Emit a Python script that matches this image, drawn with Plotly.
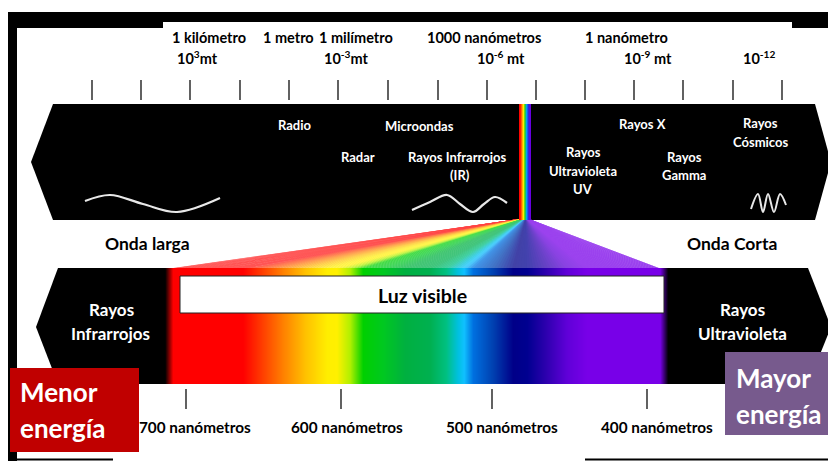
import numpy as np
import plotly.graph_objects as go

W, H = 836, 461
PAD = 8  # default page margin of the html body
FONT = "Lato"

# ---------------- content ----------------
top_labels = ["1 kilómetro", "1 metro", "1 milímetro", "1000 nanómetros", "1 nanómetro"]
top_label_x = [209, 288, 356, 484, 626]
exp_labels = ["10<sup>3</sup>mt", "10<sup>-3</sup>mt", "10<sup>-6</sup> mt", "10<sup>-9</sup> mt", "10<sup>-12</sup>"]
exp_label_x = [197, 346, 501, 648, 759]
top_tick_x = [92, 141, 190, 240, 289, 338, 388, 438, 487, 536, 585, 634, 683, 733, 782]

nm_labels = ["700 nanómetros", "600 nanómetros", "500 nanómetros", "400 nanómetros"]
nm_label_x = [195, 347, 502, 657]
nm_tick_x = [186, 341, 492, 647]

band_texts = ["Radio", "Microondas", "Radar", "Rayos Infrarrojos", "(IR)", "Rayos X",
              "Rayos", "Cósmicos", "Rayos", "Ultravioleta", "UV", "Rayos", "Gamma"]
band_text_x = [295, 419, 358, 457, 460, 642, 760, 760, 583, 583, 583, 684, 684]
band_text_y = [125, 126, 157, 157, 175, 124, 123, 142, 152, 171, 189, 157, 175]

# wave icons: extremes
long_wave_x = [85, 110, 143, 177, 220]
long_wave_y = [201, 195, 204, 212, 198]
ir_wave_x = [412, 430, 447, 460, 473, 484, 495, 507]
ir_wave_y = [210, 202, 195, 204, 212, 204, 197, 203]
cosmic_wave_x = [751, 758, 763, 768, 774, 780, 786]
cosmic_wave_y = [209, 194, 212, 194, 212, 194, 205]

# visible spectrum colour stops (position along the strip, colour)
spectrum_pos = [158, 165, 173, 243, 283, 305, 327, 337, 350, 363, 383, 405, 430, 446,
                458, 464, 473, 493, 513, 527, 547, 567, 587, 660, 668, 670]
spectrum_col = ["#000000", "#000000", "#FF0000", "#FF0000", "#FF8000", "#FFC000", "#FFEE00",
                "#FFF000", "#B0F000", "#00D000", "#00C820", "#00B040", "#00B050", "#00C080",
                "#00C0E0", "#10C0FF", "#0070E0", "#0040B0", "#000088", "#000090", "#3000B0",
                "#6000D8", "#7800E8", "#7800E8", "#000000", "#000000"]

rainbow_pos = [519, 520.5, 521.8, 523.2, 524.8, 526.4, 528, 529.5, 531]
rainbow_col = ["#FF0000", "#FF2000", "#FF9000", "#FFF000", "#20D020", "#00A0FF", "#2030E0",
               "#6000E0", "#7000E0"]

upper_band = [(53, 104), (815, 104), (831, 162), (815, 220), (53, 220), (31, 162)]
lower_band = [(58, 268), (808, 268), (831, 327), (808, 384), (58, 384), (36, 327)]


# ---------------- helpers ----------------
def h2r(h):
    h = h.lstrip("#")
    return np.array([int(h[i:i + 2], 16) for i in (0, 2, 4)], dtype=float)


def interp_color(pos, cols, x):
    x = min(max(x, pos[0]), pos[-1])
    for i in range(len(pos) - 1):
        if pos[i] <= x <= pos[i + 1]:
            t = 0 if pos[i + 1] == pos[i] else (x - pos[i]) / (pos[i + 1] - pos[i])
            return h2r(cols[i]) * (1 - t) + h2r(cols[i + 1]) * t
    return h2r(cols[-1])


def rgb(c):
    return "rgb(%d,%d,%d)" % tuple(int(round(v)) for v in c)


def strip_trace(pos, cols, y0, y1):
    x0, x1 = pos[0], pos[-1]
    edges = np.arange(x0, x1 + 0.001, 0.5)
    centers = (edges[:-1] + edges[1:]) / 2
    cs = [[(p - x0) / (x1 - x0), c] for p, c in zip(pos, cols)]
    return go.Heatmap(x=edges, y=[y0, y1], z=[centers], zmin=x0, zmax=x1,
                      colorscale=cs, showscale=False, hoverinfo="skip", zsmooth=False)


def poly_path(pts):
    return "M " + " L ".join("%g,%g" % p for p in pts) + " Z"


fig = go.Figure()
shapes = []

# frame
for (a, b, c, d) in [(6, 836, 12, 22), (6, 163, 12, 28), (792, 836, 12, 28), (6, 17, 12, 461),
                     (17, 113, 458.5, 460.5), (585, 836, 458.5, 460.5)]:
    shapes.append(dict(type="rect", xref="x", yref="y", x0=a, x1=b, y0=c, y1=d,
                       fillcolor="black", line_width=0, layer="below"))

# black bands
for band in (upper_band, lower_band):
    shapes.append(dict(type="path", xref="x", yref="y", path=poly_path(band),
                       fillcolor="black", line_width=0, layer="below"))

# prism fan (thin wedges, each slightly overlapping its neighbour)
base0, base1, step = 170, 660, 3
bxs = np.arange(base0, base1, step)
for bx in bxs:
    t0 = (bx - base0) / (base1 - base0)
    t1 = min((bx + step - base0) / (base1 - base0), 1)
    ax0 = 519 + 10 * t0 - 0.6
    ax1 = 519 + 10 * t1 + 0.6
    c = interp_color(spectrum_pos, spectrum_col, min(max(bx + step / 2, 178), 655))
    c = c * 0.74 + np.array([255, 255, 255]) * 0.26
    shapes.append(dict(type="path", xref="x", yref="y",
                       path=poly_path([(max(ax0, 519), 219), (min(ax1, 529), 219),
                                       (min(bx + step + 1.2, base1), 268.5), (bx, 268.5)]),
                       fillcolor=rgb(c), line_width=0, layer="below"))

# spectrum strips
fig.add_trace(strip_trace(spectrum_pos, spectrum_col, 268, 384))
fig.add_trace(strip_trace(rainbow_pos, rainbow_col, 104, 220))

# ticks
tx, ty = [], []
for x in top_tick_x:
    tx += [x, x, None]
    ty += [80, 100, None]
for x in nm_tick_x:
    tx += [x, x, None]
    ty += [389, 409, None]
fig.add_trace(go.Scatter(x=tx, y=ty, mode="lines", line=dict(color="#3a3a3a", width=1.6),
                         hoverinfo="skip", showlegend=False))

# waves
for wx, wy, wd in [(long_wave_x, long_wave_y, 2.2), (ir_wave_x, ir_wave_y, 2.2),
                   (cosmic_wave_x, cosmic_wave_y, 2.0)]:
    fig.add_trace(go.Scatter(x=wx, y=wy, mode="lines",
                             line=dict(color="#e8e8e8", width=wd, shape="spline", smoothing=1.0),
                             hoverinfo="skip", showlegend=False))

# white "Luz visible" box and energy boxes
shapes.append(dict(type="rect", xref="x", yref="y", x0=180, x1=664, y0=276, y1=313,
                   fillcolor="white", line=dict(color="#222", width=1), layer="above"))
shapes.append(dict(type="rect", xref="x", yref="y", x0=10, x1=139, y0=368, y1=452,
                   fillcolor="#C00000", line_width=0, layer="above"))
shapes.append(dict(type="rect", xref="x", yref="y", x0=725, x1=836, y0=352, y1=435,
                   fillcolor="#775A8D", line_width=0, layer="above"))

ann = []


def txt(s, x, y, size, color="black", xanchor="center"):
    ann.append(dict(text="<b>%s</b>" % s, x=x, y=y, xref="x", yref="y", showarrow=False,
                    xanchor=xanchor, yanchor="middle",
                    font=dict(family=FONT, size=size, color=color)))


for s, x in zip(top_labels, top_label_x):
    txt(s, x, 37, 14.5)
for s, x in zip(exp_labels, exp_label_x):
    txt(s, x, 57, 14.5)
for s, x, y in zip(band_texts, band_text_x, band_text_y):
    txt(s, x, y, 13, "white")
for s, x in zip(nm_labels, nm_label_x):
    txt(s, x, 427, 15.3)

txt("Onda larga", 147, 243, 17.5)
txt("Onda Corta", 732, 243, 17.5)
txt("Luz visible", 422, 295, 19.5)
txt("Rayos", 111, 309, 17, "white")
txt("Infrarrojos", 110, 333, 17, "white")
txt("Rayos", 742, 309, 17, "white")
txt("Ultravioleta", 742, 333, 17, "white")
txt("Menor", 18, 392, 26, "white", "left")
txt("energía", 18, 428, 26, "white", "left")
txt("Mayor", 734, 378, 26, "white", "left")
txt("energía", 734, 414, 26, "white", "left")

fig.update_layout(
    width=W - PAD, height=H - PAD, margin=dict(l=0, r=0, t=0, b=0),
    paper_bgcolor="white", plot_bgcolor="white",
    xaxis=dict(range=[PAD, W], visible=False, fixedrange=True),
    yaxis=dict(range=[H, PAD], visible=False, fixedrange=True),
    shapes=shapes, annotations=ann, showlegend=False,
)

fig.write_html("out.html")
